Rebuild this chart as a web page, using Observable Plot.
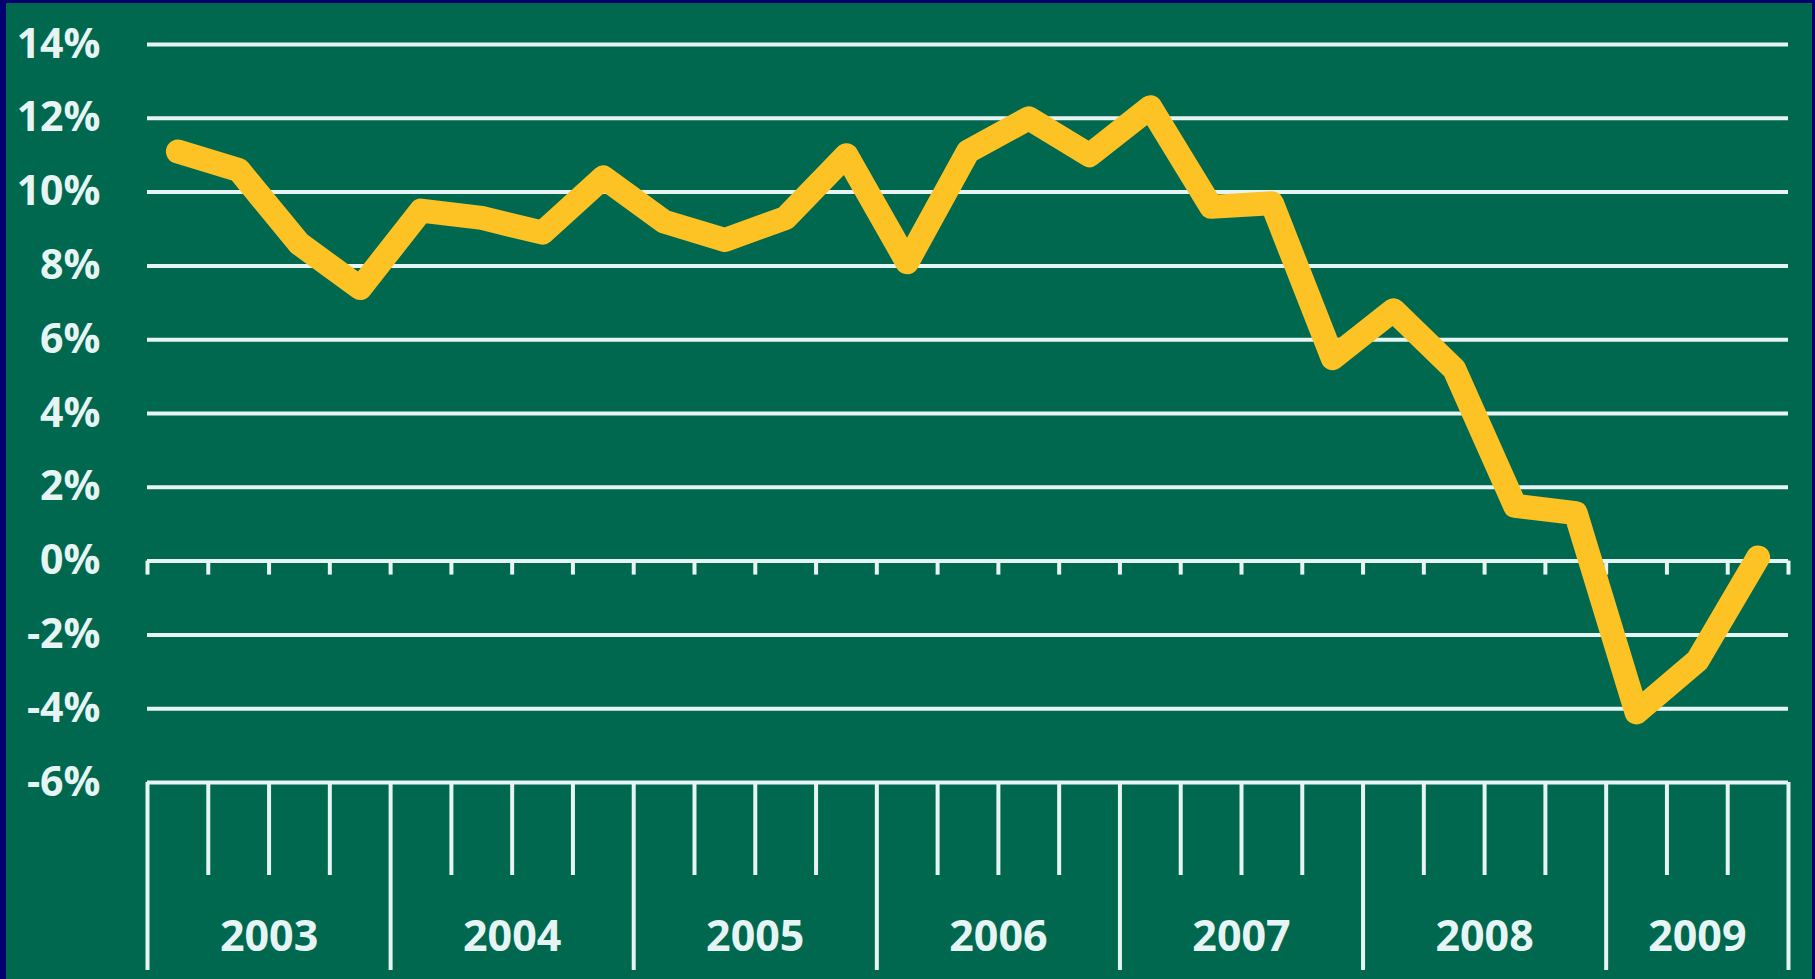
<!DOCTYPE html>
<html>
<head>
<meta charset="utf-8">
<script src="https://cdn.jsdelivr.net/npm/d3@7"></script>
<script src="https://cdn.jsdelivr.net/npm/@observablehq/plot@0.6"></script>
<style>
  html, body { margin: 0; padding: 0; background: #00006e; }
  #wrap { position: relative; width: 1815px; height: 979px; overflow: hidden; }
  #frame { position: absolute; left: 0; top: 0; right: 0; bottom: 0; pointer-events: none;
           border-left: 6px solid #00006e; border-top: 3px solid #00006e; border-right: 3px solid #00006e; }
  svg { display: block; }
</style>
</head>
<body>
<div id="wrap"><div id="chart"></div><div id="frame"></div></div>
<script>
// Years shown on the bottom band and number of quarters in each
const years = ["2003", "2004", "2005", "2006", "2007", "2008", "2009"];
const quartersPerYear = [4, 4, 4, 4, 4, 4, 3];
// Quarterly growth, % (2003 Q1 ... 2009 Q3)
const growth = [
  11.1, 10.6, 8.6, 7.4,
  9.5, 9.3, 8.9, 10.4,
  9.2, 8.7, 9.3, 11.0,
  8.1, 11.1, 12.0, 11.0,
  12.3, 9.6, 9.7, 5.5,
  6.8, 5.2, 1.5, 1.3,
  -4.1, -2.7, 0.1
];
// Y-axis tick values (%)
const yTicks = [-6, -4, -2, 0, 2, 4, 6, 8, 10, 12, 14];

// derived tables
const nQ = growth.length;
const points = growth.map((v, i) => ({q: i + 0.5, v}));
const boundaries = d3.range(nQ + 1);
const yearStarts = d3.cumsum([0, ...quartersPerYear]); // 0,4,...,27
const yearBounds = Array.from(yearStarts);
const minorBounds = boundaries.filter(b => !yearBounds.includes(b));
const yearLabels = years.map((y, i) => ({year: y, x: (yearStarts[i] + yearStarts[i + 1]) / 2}));

const white = "#e6f4f3";
const font = "'Open Sans', sans-serif";

const chart = Plot.plot({
  width: 1815,
  height: 979,
  marginLeft: 147,
  marginRight: 27,
  marginTop: 44,
  marginBottom: 197,
  x: {domain: [0, nQ], axis: null},
  y: {domain: [-6, 14], axis: null},
  style: {background: "#00684f", color: white, fontFamily: font},
  marks: [
    Plot.ruleY(yTicks, {stroke: white, strokeWidth: 4}),
    // small ticks under the 0% line
    Plot.ruleX(boundaries, {x: d => d, y1: 0, y2: 0, insetBottom: -14, stroke: white, strokeWidth: 4}),
    // bottom category band
    Plot.ruleX(minorBounds, {x: d => d, y1: -6, y2: -6, insetBottom: -93, stroke: white, strokeWidth: 4}),
    Plot.ruleX(yearBounds, {x: d => d, y1: -6, y2: -6, insetBottom: -188, stroke: white, strokeWidth: 4}),
    Plot.text(yearLabels, {x: "x", y: () => -6, dy: 155, text: "year", fill: white,
      fontSize: 43, fontWeight: "bold", fontFamily: font}),
    Plot.axisY({ticks: yTicks, tickSize: 0, tickPadding: 47, tickFormat: d => `${d}%`, label: null,
      fontSize: 41, fontWeight: "bold", fill: white, fontFamily: font}),
    Plot.line(points, {x: "q", y: "v", stroke: "#fdc224", strokeWidth: 24,
      strokeLinejoin: "round", strokeLinecap: "round"})
  ]
});
document.getElementById("chart").appendChild(chart);
</script>
</body>
</html>
